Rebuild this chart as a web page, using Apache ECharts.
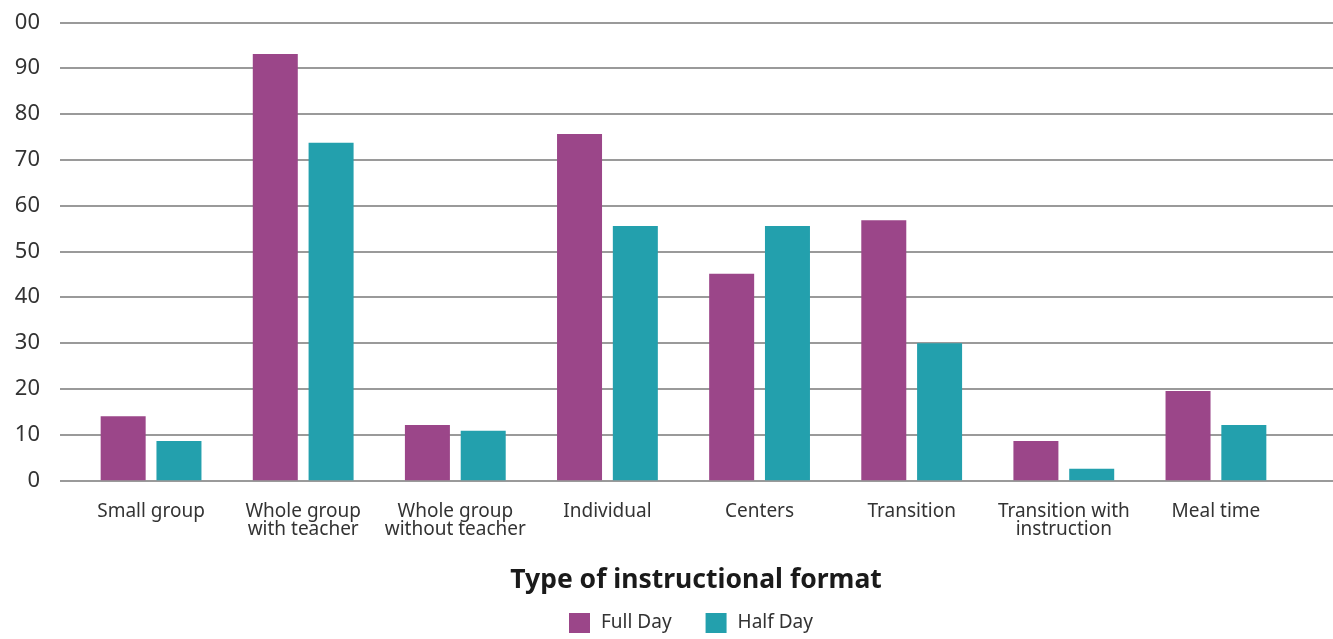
<!DOCTYPE html>
<html><head><meta charset="utf-8">
<script src="https://cdn.jsdelivr.net/npm/echarts@6/dist/echarts.min.js"></script>
<style>html,body{margin:0;padding:0;background:#fff}#c{width:1333px;height:639px}</style>
</head><body><div id="c"></div>
<script>
const categories = ['Small group','Whole group\nwith teacher','Whole group\nwithout teacher','Individual','Centers','Transition','Transition with\ninstruction','Meal time'];
const fullDay = [14.0, 93.1, 12.1, 75.6, 45.1, 56.8, 8.6, 19.5];
const halfDay = [8.6, 73.7, 10.8, 55.5, 55.5, 29.9, 2.5, 12.1];
const yTickLabels = {0:'0',10:'10',20:'20',30:'30',40:'40',50:'50',60:'60',70:'70',80:'80',90:'90',100:'00'};
const seriesNames = ['Full Day','Half Day'];
const colors = ['#9b4689','#23a0ad'];
const FONT = '"Noto Sans", Lato, sans-serif';

const chart = echarts.init(document.getElementById('c'));
const gTop = 22.3, gBottom = 639 - 480.3;
chart.setOption({
  animation: false,
  title: {
    text: 'Type of instructional format',
    left: 691, top: 562, textAlign: 'center',
    textStyle: {fontFamily: FONT, fontWeight: 'bold', fontSize: 26.5, color: '#1a1a1a'}
  },
  legend: {
    data: seriesNames, left: 569, top: 613, padding: 0,
    itemWidth: 21, itemHeight: 20, itemGap: 34,
    icon: 'rect',
    textStyle: {fontFamily: FONT, fontSize: 19, color: '#333', padding: [0, 0, 0, 6]}
  },
  grid: [
    {left: 60, right: 0, top: gTop, bottom: gBottom},
    {left: 75, right: 41, top: gTop, bottom: gBottom}
  ],
  xAxis: [
    {gridIndex: 0, type: 'value', show: false},
    {gridIndex: 1, type: 'category', data: categories,
     axisLine: {show: false}, axisTick: {show: false},
     axisLabel: {margin: 22, fontFamily: FONT, fontSize: 19, color: '#333', lineHeight: 18, interval: 0}}
  ],
  yAxis: [
    {gridIndex: 0, type: 'value', min: 0, max: 100, interval: 10,
     axisLine: {show: false}, axisTick: {show: false},
     axisLabel: {margin: 20, fontFamily: FONT, fontSize: 22, color: '#333', formatter: v => yTickLabels[v]},
     splitLine: {lineStyle: {color: '#9a9a9a', width: 2}}},
    {gridIndex: 1, type: 'value', min: 0, max: 100, interval: 10, show: false, splitLine: {show: false}}
  ],
  series: [
    {name: seriesNames[0], type: 'bar', xAxisIndex: 1, yAxisIndex: 1, data: fullDay,
     barWidth: 45, barGap: '24%', itemStyle: {color: colors[0]}},
    {name: seriesNames[1], type: 'bar', xAxisIndex: 1, yAxisIndex: 1, data: halfDay,
     barWidth: 45, barGap: '24%', itemStyle: {color: colors[1]}}
  ]
});
</script></body></html>
